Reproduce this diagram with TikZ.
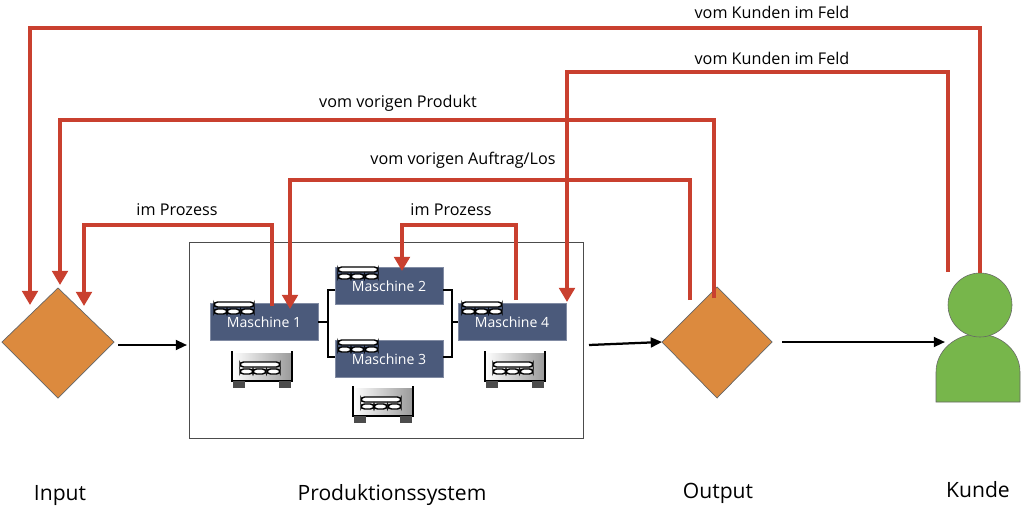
\documentclass[tikz,border=0pt]{standalone}
\usepackage{fontspec}
\setmainfont{Open Sans}
\usetikzlibrary{positioning, arrows.meta}
\definecolor{fbred}{HTML}{C9402F}
\definecolor{orangeD}{HTML}{DC8A3E}
\definecolor{machblue}{HTML}{4B5A7B}
\definecolor{kundegreen}{HTML}{77B64B}

\begin{document}
\begin{tikzpicture}[x=0.025cm, y=-0.025cm, >=latex]
    \tikzset{
      feedback/.style = {draw=fbred, line width=3pt, ->, >={Triangle[length=10pt,width=11pt]}},
      flow/.style = {draw=black, line width=1.6pt, ->, >={Triangle[length=8pt,width=7pt]}},
      machine/.style = {rectangle, fill=machblue, draw=machblue!70!white, minimum width=2.7cm, minimum height=0.92cm, text=white, font=\fontsize{10}{11}\selectfont, inner sep=0pt},
      lbl/.style = {font=\fontsize{11.5}{13}\selectfont, text=black},
      bigl/.style = {font=\fontsize{15}{17}\selectfont},
      decision/.style = {fill=orangeD, draw=black!60, line width=0.5pt},
      pallet/.pic = {
        \draw[fill=white, line width=1pt, rounded corners=2.5pt] (-20,-6) rectangle (20,-1);
        \foreach \xx in {-20,-7,7} \draw[fill=white, line width=1pt, rounded corners=2.5pt] (\xx,1) rectangle ++(13,5);
      },
      bin/.pic = {
        \shade[left color=white, right color=gray!80] (-30,-17) rectangle (30,11);
        \draw[line width=1.6pt] (-30,-19) -- (-30,11) -- (30,11) -- (30,-19);
        \fill[black!70] (-29,11) rectangle (-17,18);
        \fill[black!70] (17,11) rectangle (29,18);
        \pic at (-2,-2) {pallet};
      }
    }
    \useasboundingbox (0,0) rectangle (1024,513);

    % system frame
    \draw[black!70, line width=0.6pt] (189,242) rectangle (583,438);

    % machines
    \node (m1) [machine] at (264,322) {Maschine 1};
    \node (m2) [machine] at (389,286) {Maschine 2};
    \node (m3) [machine] at (389,359) {Maschine 3};
    \node (m4) [machine] at (512,322) {Maschine 4};
    \pic at (234,308) {pallet};
    \pic at (358,273) {pallet};
    \pic at (358,346) {pallet};
    \pic at (482,308) {pallet};

    % bins
    \pic at (262,370) {bin};
    \pic at (383,405) {bin};
    \pic at (515,370) {bin};

    % brackets between machines
    \draw[line width=1.4pt] (m1.east) -- (328,322);
    \draw[line width=1.4pt] (335,290) -| (328,357) -- (335,357);
    \draw[line width=1.4pt] (443,290) -| (452,357) -- (443,357);
    \draw[line width=1.4pt] (452,322) -- (m4.west);

    % decisions and customer
    \draw[decision] (58,288) coordinate (inTop) -- (114,342) coordinate (inR) -- (58,398) -- (2,342) -- cycle;
    \draw[decision] (717,287) coordinate (outTop) -- (772,342) coordinate (outR) -- (717,398) -- (662,342) coordinate (outL) -- cycle;
    \draw[fill=kundegreen, draw=black!60] (936,402) -- (936,372) arc[start angle=180, end angle=360, x radius=42, y radius=38] -- (1020,402) -- cycle;
    \node (kunde) [circle, fill=kundegreen, draw=black!60, minimum size=1.6cm] at (980,305) {};

    % material flow
    \coordinate (sysL) at (187,345);
    \coordinate (sysR) at (583,345);
    \draw[flow] (inR) ++(4,3) -- (sysL);
    \draw[flow] (sysR) ++(6,0) -- (outL);
    \draw[flow] (outR) ++(10,0) -- (945,342);

    % feedback loops
    \draw[feedback] (kunde.north) -- ++(0,-245) -| (30,305);
    \node[lbl] at (772,12) {vom Kunden im Feld};
    \draw[feedback] (948,272) -- (948,72) -| (567,302);
    \node[lbl] at (772,58) {vom Kunden im Feld};
    \draw[feedback] (714,298) -- (714,120) -| (60,285);
    \node[lbl] at (398,103) {vom vorigen Produkt};
    \draw[feedback] (690,300) -- (690,180) -| (290,309);
    \node[lbl] at (463,160) {vom vorigen Auftrag/Los};
    \draw[feedback] (272,306) -- (272,225) -| (84,306);
    \node[lbl] at (177,210) {im Prozess};
    \draw[feedback] (516,300) -- (516,225) -| (402,271);
    \node[lbl] at (451,210) {im Prozess};

    % captions
    \node[bigl] at (60,495) {Input};
    \node[bigl] at (392,495) {Produktionssystem};
    \node[bigl] at (718,493) {Output};
    \node[bigl] at (978,490) {Kunde};
\end{tikzpicture}
\end{document}
